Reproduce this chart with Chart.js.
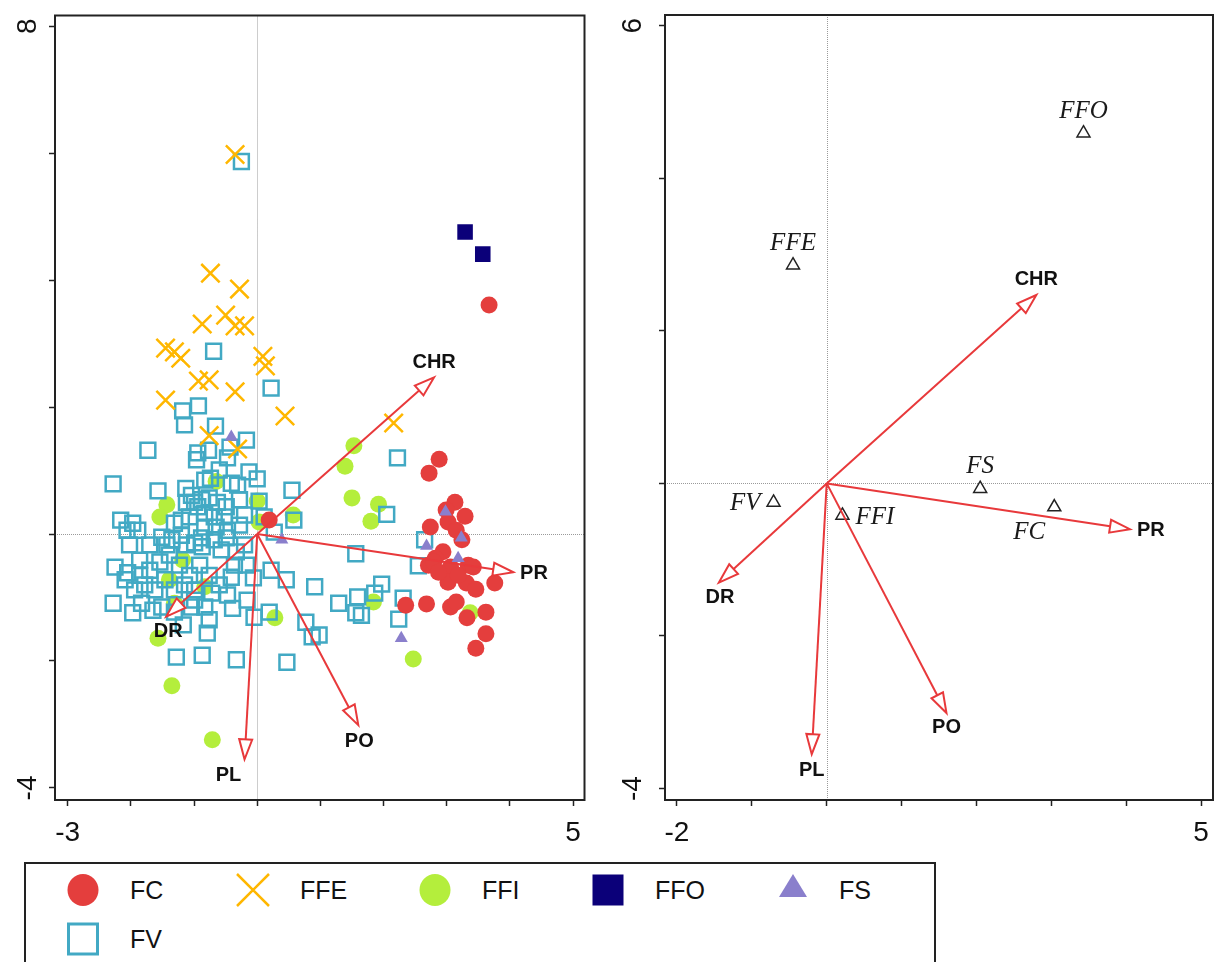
<!DOCTYPE html>
<html lang="en">
<head>
<meta charset="UTF-8">
<title>Biplot</title>
<script src="https://cdn.jsdelivr.net/npm/chart.js"></script>
<style>
  html, body { margin: 0; padding: 0; background: #fff; }
  body { position: relative; width: 1222px; height: 962px; overflow: hidden; font-family: "Liberation Sans", Arial, sans-serif; }
  canvas { position: absolute; top: 0; }
  #leftChart { left: 0; }
  #rightChart { left: 600px; }
  #legendBox { position: absolute; left: 24px; top: 862px; width: 912px; height: 130px; border: 2px solid #222; box-sizing: border-box; }
  .sym, .txt { position: absolute; }
  .txt { font-size: 25px; height: 30px; line-height: 30px; color: #111; white-space: nowrap; }
</style>
</head>
<body>
<canvas id="leftChart" width="600" height="850"></canvas>
<canvas id="rightChart" width="622" height="850"></canvas>
<div id="legendBox"></div>
<div id="legend"></div>
<script>
    const groups = ['FC', 'FFE', 'FFI', 'FFO', 'FS', 'FV'];

    // sample scores, left plot
    const fcX = [3.67, 0.19, 2.88, 2.72, 3.13, 2.99, 3.29, 2.74, 3.02, 3.15,
                 3.24, 2.94, 2.82, 2.71, 3.06, 3.34, 3.42, 3.02, 3.31, 3.46,
                 3.76, 2.35, 2.68, 3.06, 3.15, 3.62, 3.32, 3.62, 3.46, 2.79,
                 3.18, 2.87];
    const fcY = [3.61, 0.22, 1.18, 0.96, 0.50, 0.38, 0.28, 0.11, 0.19, 0.06,
                 -0.09, -0.28, -0.38, -0.49, -0.52, -0.49, -0.52, -0.76, -0.77, -0.87,
                 -0.77, -1.12, -1.10, -1.15, -1.07, -1.23, -1.32, -1.57, -1.80, -0.44,
                 -0.65, -0.60];

    const ffeX = [-0.35, -0.74, -0.28, -0.87, -0.50, -0.35, -0.20, -1.45, -1.31, -1.21,
                  0.09, 0.13, -0.93, -0.76, -0.35, -1.45, 0.44, 2.16, -0.76, -0.31];
    const ffeY = [5.98, 4.11, 3.86, 3.31, 3.45, 3.28, 3.28, 2.93, 2.87, 2.77,
                  2.80, 2.65, 2.41, 2.43, 2.24, 2.11, 1.86, 1.75, 1.55, 1.34];

    const ffiX = [1.53, 1.39, 1.50, 1.92, 1.80, 1.84, 3.37, 2.47, -0.65, -1.43,
                  -1.54, 0.00, 0.03, 0.57, -1.18, -1.39, -0.83, -1.31, 0.28, -1.57,
                  -1.35, -0.71];
    const ffiY = [1.39, 1.07, 0.57, 0.47, 0.20, -1.07, -1.24, -1.97, 0.83, 0.46,
                  0.27, 0.52, 0.19, 0.30, -0.41, -0.72, -0.83, -1.09, -1.32, -1.64,
                  -2.39, -3.24];

    const ffoX = [3.29, 3.57];
    const ffoY = [4.76, 4.41];

    const fsX = [-0.41, 0.39, 2.98, 3.23, 2.68, 3.18, 2.28];
    const fsY = [1.53, -0.09, 0.35, -0.06, -0.19, -0.38, -1.64];

    const fvX = [-0.25, -0.69, 0.22, -1.18, -0.93, -1.15, -0.66, -0.17, -1.73, -0.94,
                 -0.96, -0.43, -0.77, -0.47, -2.28, -1.57, -1.13, -1.04, -0.74, -0.41,
                 -0.31, -0.13, 0.00, 0.55, 0.03, 0.58, 0.11, 0.27, 2.22, 2.05,
                 2.65, 1.56, 2.55, 1.97, 1.86, 1.59, 1.29, 1.65, 1.56, 2.31,
                 2.24, 0.98, 0.91, 0.77, 0.87, 0.47, -0.33, -0.87, -1.28, 0.19,
                 -0.05, 0.46, 0.22, -0.06, -0.17, -0.41, -0.16, -0.39, -0.47, -0.72,
                 -0.83, -0.76, -0.79, -0.33, -0.57, -0.87, -2.28, -1.97, -1.83, -1.65,
                 -1.51, -1.31, -1.17, -1.04, -0.99, -2.16, -1.97, -1.89, -2.06, -1.51,
                 -1.35, -1.20, -1.43, -1.12, -0.99, -1.20, -1.07, -1.31, -1.12, -0.99,
                 -0.94, -0.88, -0.76, -0.63, -0.49, -0.83, -0.68, -0.52, -0.83, -0.65,
                 -0.47, -0.88, -0.68, -0.49, -2.02, -2.25, -2.05, -1.86, -1.70, -1.54,
                 -1.39, -1.23, -1.07, -0.91, -0.76, -0.60, -1.78, -1.62, -1.46, -1.31,
                 -1.15, -0.99, -1.94, -2.09, -0.28, -0.20, -0.36, -1.70, -1.86, -0.83,
                 -0.60, -0.28, -0.20];
    const fvY = [5.87, 2.88, 2.30, 1.94, 2.02, 1.72, 1.70, 1.48, 1.32, 1.28,
                 1.17, 1.37, 1.32, 1.20, 0.79, 0.68, 0.72, 0.61, 0.88, 0.80,
                 0.77, 0.98, 0.87, 0.69, 0.52, 0.22, 0.27, 0.03, 1.20, 0.31,
                 -0.09, -0.31, -0.50, -0.79, -0.93, -0.99, -1.09, -1.28, -1.24, -1.01,
                 -1.34, -1.59, -0.83, -1.39, -1.62, -2.02, -1.98, -1.91, -1.94, -1.23,
                 -1.31, -0.72, -0.57, -0.69, -0.49, -0.68, -1.04, -1.17, -0.96, -0.93,
                 -1.15, -1.35, -1.56, -0.28, -0.25, -0.20, -1.09, -1.24, -1.09, -1.20,
                 -1.15, -1.23, -1.43, -1.15, -1.04, 0.22, 0.17, 0.06, 0.06, -0.05,
                 -0.09, -0.02, -0.17, -0.17, -0.14, 0.22, 0.27, 0.17, 0.50, 0.50,
                 0.43, 0.54, 0.57, 0.50, 0.43, 0.33, 0.27, 0.27, 0.11, 0.11,
                 0.06, -0.06, -0.09, -0.06, -0.17, -0.52, -0.61, -0.41, -0.57, -0.44,
                 -0.33, -0.49, -0.65, -0.49, -0.65, -0.80, -0.80, -0.88, -0.72, -0.88,
                 -0.80, -0.88, -0.88, -0.72, 0.14, -0.17, -0.49, -0.17, -0.65, 0.85,
                 1.01, 0.54, 0.30];

    // group centroids, right plot
    const centroidNames = ['FFO', 'FFE', 'FS', 'FC', 'FV', 'FFI'];
    const centroidX = [3.43, -0.45, 2.05, 3.04, -0.71, 0.21];
    const centroidY = [4.59, 2.86, -0.07, -0.31, -0.25, -0.42];

    // environmental vectors, same in both plots
    const arrowNames = ['CHR', 'PR', 'DR', 'PL', 'PO'];
    const arrowX = [2.80, 4.05, -1.44, -0.20, 1.60];
    const arrowY = [2.47, -0.60, -1.30, -3.55, -3.01];

    const leftXTicks = [-3, -2, -1, 0, 1, 2, 3, 4, 5];
    const leftYTicks = [-4, -2, 0, 2, 4, 6, 8];
    const rightXTicks = [-2, -1, 0, 1, 2, 3, 4, 5];
    const rightYTicks = [-4, -2, 0, 2, 4, 6];

    const COLORS = { FC: '#e43e3d', FFE: '#ffb700', FFI: '#b4ee3c', FFO: '#0b0079', FS: '#8a7fcc', FV: '#42a9c4' };
    const ARROW_RED = '#e8393b';
    const FONT = '"Liberation Sans", Arial, sans-serif';

    function pts(xs, ys) {
        return xs.map((v, i) => ({ x: v, y: ys[i] }));
    }

    function axis(min, max, ticks, size, pad, vertical) {
        return {
            type: 'linear',
            min: min,
            max: max,
            afterBuildTicks: s => { s.ticks = ticks.map(v => ({ value: v })); },
            afterFit: s => {
                if (vertical) s.width = size; else s.height = size;
                // keep the end labels from pushing the plot frame around
                s.paddingTop = s.paddingBottom = s.paddingLeft = s.paddingRight = 0;
            },
            grid: { display: true, drawOnChartArea: false, drawTicks: true, tickLength: 6, tickColor: '#222', tickWidth: 1.5 },
            border: { display: false },
            ticks: {
                autoSkip: false,
                padding: pad,
                color: '#111',
                font: { family: FONT, size: 28 },
                minRotation: vertical ? 90 : 0,
                maxRotation: vertical ? 90 : 0,
                crossAlign: vertical ? 'center' : 'near',
                callback: (v, i) => (i === 0 || i === ticks.length - 1) ? String(v) : ''
            }
        };
    }

    const biplot = {
        id: 'biplot',
        beforeDatasetsDraw(chart) {
            const { ctx, chartArea: a, scales: { x, y } } = chart;
            const x0 = Math.round(x.getPixelForValue(0)) + 0.5;
            const y0 = Math.round(y.getPixelForValue(0)) + 0.5;
            ctx.save();
            ctx.strokeStyle = '#9a9a9a';
            ctx.lineWidth = 1;
            ctx.setLineDash([1, 1]);
            ctx.beginPath();
            ctx.moveTo(x0, a.top); ctx.lineTo(x0, a.bottom);
            ctx.moveTo(a.left, y0); ctx.lineTo(a.right, y0);
            ctx.stroke();
            ctx.restore();
        },
        afterDatasetsDraw(chart, args, opts) {
            const { ctx, scales: { x, y } } = chart;
            const x0 = x.getPixelForValue(0), y0 = y.getPixelForValue(0);
            ctx.save();
            ctx.lineJoin = 'miter';
            arrowNames.forEach((name, i) => {
                const tx = x.getPixelForValue(arrowX[i]), ty = y.getPixelForValue(arrowY[i]);
                const dx = tx - x0, dy = ty - y0, len = Math.hypot(dx, dy);
                const ux = dx / len, uy = dy / len;
                const headLen = 20, headW = 6.5;
                const bx = tx - ux * headLen, by = ty - uy * headLen;
                ctx.strokeStyle = ARROW_RED;
                ctx.lineWidth = 2;
                ctx.beginPath();
                ctx.moveTo(x0, y0);
                ctx.lineTo(bx, by);
                ctx.stroke();
                ctx.beginPath();
                ctx.moveTo(tx, ty);
                ctx.lineTo(bx - uy * headW, by + ux * headW);
                ctx.lineTo(bx + uy * headW, by - ux * headW);
                ctx.closePath();
                ctx.fillStyle = '#fff';
                ctx.fill();
                ctx.stroke();

                const [ox, oy, align] = opts.arrowLabels[i];
                ctx.fillStyle = '#111';
                ctx.font = 'bold 20px ' + FONT;
                ctx.textAlign = align;
                ctx.textBaseline = 'middle';
                ctx.fillText(name, tx + ox, ty + oy);
            });
            if (opts.pointLabels) {
                ctx.font = 'italic 25px "Liberation Serif", "Times New Roman", serif';
                ctx.fillStyle = '#1a1a1a';
                ctx.textBaseline = 'middle';
                centroidNames.forEach((name, i) => {
                    const px = x.getPixelForValue(centroidX[i]), py = y.getPixelForValue(centroidY[i]);
                    const [ox, oy, align] = opts.pointLabels[i];
                    ctx.textAlign = align;
                    ctx.fillText(name, px + ox, py + oy);
                });
            }
            ctx.restore();
        },
        afterDraw(chart) {
            const { ctx, chartArea: a } = chart;
            ctx.save();
            ctx.strokeStyle = '#222';
            ctx.lineWidth = 2;
            ctx.strokeRect(a.left, a.top, a.right - a.left, a.bottom - a.top);
            ctx.restore();
        }
    };

    const baseOptions = {
        responsive: false,
        animation: false,
        events: [],
        plugins: { legend: { display: false }, tooltip: { enabled: false } }
    };

    new Chart(document.getElementById('leftChart'), {
        type: 'scatter',
        data: {
            datasets: [
                { label: 'FS', data: pts(fsX, fsY), order: 0, pointStyle: 'triangle', pointRadius: 7.5,
                  pointBackgroundColor: COLORS.FS, pointBorderColor: COLORS.FS, pointBorderWidth: 0 },
                { label: 'FFO', data: pts(ffoX, ffoY), order: 1, pointStyle: 'rect', pointRadius: 11,
                  pointBackgroundColor: COLORS.FFO, pointBorderColor: COLORS.FFO, pointBorderWidth: 0 },
                { label: 'FFE', data: pts(ffeX, ffeY), order: 2, pointStyle: 'crossRot', pointRadius: 13,
                  pointBorderColor: COLORS.FFE, pointBorderWidth: 2.5 },
                { label: 'FC', data: pts(fcX, fcY), order: 3, pointStyle: 'circle', pointRadius: 8.5,
                  pointBackgroundColor: COLORS.FC, pointBorderColor: COLORS.FC, pointBorderWidth: 0 },
                { label: 'FV', data: pts(fvX, fvY), order: 4, pointStyle: 'rect', pointRadius: 10.5,
                  pointBackgroundColor: 'rgba(0,0,0,0)', pointBorderColor: COLORS.FV, pointBorderWidth: 2.5 },
                { label: 'FFI', data: pts(ffiX, ffiY), order: 5, pointStyle: 'circle', pointRadius: 8.5,
                  pointBackgroundColor: COLORS.FFI, pointBorderColor: COLORS.FFI, pointBorderWidth: 0 }
            ]
        },
        options: {
            ...baseOptions,
            layout: { padding: { top: 15, right: 13, left: 0, bottom: 0 } },
            scales: {
                x: axis(-3.2, 5.18, leftXTicks, 50, 10, false),
                y: axis(-4.19, 8.17, leftYTicks, 55, 8, true)
            },
            plugins: {
                ...baseOptions.plugins,
                biplot: {
                    arrowLabels: [[0, -15, 'center'], [7, 1, 'left'], [2, 15, 'center'], [-16, 16, 'center'], [1, 16, 'center']]
                }
            }
        },
        plugins: [biplot]
    });

    new Chart(document.getElementById('rightChart'), {
        type: 'scatter',
        data: {
            datasets: [
                { label: 'centroids', data: pts(centroidX, centroidY), pointStyle: 'triangle', pointRadius: 7.5,
                  pointBackgroundColor: '#fff', pointBorderColor: '#222', pointBorderWidth: 1.5 }
            ]
        },
        options: {
            ...baseOptions,
            layout: { padding: { top: 15, right: 1, left: 0, bottom: 0 } },
            scales: {
                x: axis(-2.16, 5.16, rightXTicks, 50, 10, false),
                y: axis(-4.15, 6.14, rightYTicks, 65, 13, true)
            },
            plugins: {
                ...baseOptions.plugins,
                biplot: {
                    arrowLabels: [[0, -15, 'center'], [7, 1, 'left'], [1, 15, 'center'], [0, 16, 'center'], [0, 14, 'center']],
                    pointLabels: [[0, -22, 'center'], [0, -22, 'center'], [0, -22, 'center'], [-25, 25, 'center'], [-13, 1, 'right'], [13, 2, 'left']]
                }
            }
        },
        plugins: [biplot]
    });

    // legend under both panels
    const legendPos = { FC: [83, 890, 130], FFE: [253, 890, 300], FFI: [435, 890, 482], FFO: [608, 890, 655], FS: [793, 890, 839], FV: [83, 939, 130] };

    function legendSymbol(g) {
        const c = COLORS[g];
        if (g === 'FC' || g === 'FFI') return `<svg width="34" height="34"><ellipse cx="17" cy="17" rx="15.5" ry="16" fill="${c}"/></svg>`;
        if (g === 'FFE') return `<svg width="34" height="34"><path d="M1 1L33 33M33 1L1 33" stroke="${c}" stroke-width="2.5" fill="none"/></svg>`;
        if (g === 'FFO') return `<svg width="34" height="34"><rect x="1.5" y="1.5" width="31" height="31" fill="${c}"/></svg>`;
        if (g === 'FS') return `<svg width="34" height="34"><polygon points="17,1 3,24 31,24" fill="${c}"/></svg>`;
        return `<svg width="34" height="34"><rect x="2.5" y="2" width="29" height="30" fill="none" stroke="${c}" stroke-width="3"/></svg>`;
    }

    const legend = document.getElementById('legend');
    groups.forEach(g => {
        const [cx, cy, tx] = legendPos[g];
        const sym = document.createElement('div');
        sym.className = 'sym';
        sym.style.left = (cx - 17) + 'px';
        sym.style.top = (cy - 17) + 'px';
        sym.innerHTML = legendSymbol(g);
        legend.appendChild(sym);
        const txt = document.createElement('div');
        txt.className = 'txt';
        txt.style.left = tx + 'px';
        txt.style.top = (cy - 15) + 'px';
        txt.textContent = g;
        legend.appendChild(txt);
    });
</script>
</body>
</html>
